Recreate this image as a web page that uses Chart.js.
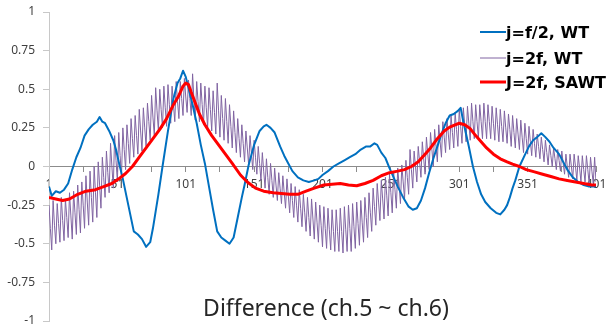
<!DOCTYPE html>
<html>
<head>
<meta charset="utf-8">
<script src="https://cdn.jsdelivr.net/npm/chart.js@4.4.1/dist/chart.umd.min.js"></script>
<style>
  html, body { margin: 0; padding: 0; background: #fff; }
  #chart { display: block; }
</style>
</head>
<body>
<canvas id="chart" width="606" height="328"></canvas>
<script>
// series names (legend order)
const seriesNames = ['j=f/2, WT', 'j=2f, WT', 'J=2f, SAWT'];
const xTickLabels = [1, 51, 101, 151, 201, 251, 301, 351, 401];
const chartTitle = 'Difference (ch.5 ~ ch.6)';

// j=f/2, WT  (sample index -> value)
const blueX = [1, 3, 6, 9, 12, 15, 18, 21, 24, 27, 30, 33, 36, 38, 40, 42, 45, 48, 50, 52, 55, 59, 63, 66, 69, 72, 75, 77, 79, 81, 84, 88, 92, 95, 97, 99, 101, 103, 106, 109, 112, 115, 118, 121, 124, 127, 130, 133, 136, 139, 142, 144, 147, 151, 155, 158, 160, 163, 166, 170, 173, 176, 179, 183, 187, 191, 195, 198, 201, 205, 209, 213, 217, 221, 225, 229, 233, 236, 239, 241, 244, 247, 250, 253, 256, 260, 264, 267, 270, 273, 276, 279, 282, 285, 288, 291, 294, 297, 300, 302, 304, 306, 308, 311, 314, 317, 320, 324, 328, 331, 334, 336, 338, 340, 342, 345, 349, 352, 355, 358, 361, 364, 367, 370, 374, 377, 380, 384, 388, 392, 396, 401];
const blueY = [-0.13, -0.19, -0.16, -0.17, -0.15, -0.11, -0.02, 0.06, 0.12, 0.2, 0.24, 0.27, 0.29, 0.32, 0.29, 0.28, 0.23, 0.17, 0.11, 0.03, -0.08, -0.25, -0.42, -0.44, -0.47, -0.52, -0.49, -0.4, -0.29, -0.18, 0.0, 0.23, 0.44, 0.54, 0.57, 0.62, 0.58, 0.51, 0.4, 0.28, 0.14, 0.02, -0.13, -0.28, -0.42, -0.46, -0.48, -0.5, -0.46, -0.33, -0.2, -0.12, 0.01, 0.14, 0.23, 0.26, 0.27, 0.25, 0.22, 0.13, 0.07, 0.02, -0.03, -0.07, -0.09, -0.1, -0.09, -0.08, -0.055, -0.03, 0.0, 0.02, 0.04, 0.06, 0.08, 0.11, 0.13, 0.13, 0.15, 0.14, 0.09, 0.055, -0.01, -0.07, -0.13, -0.2, -0.26, -0.28, -0.27, -0.22, -0.14, -0.04, 0.05, 0.13, 0.21, 0.28, 0.33, 0.34, 0.36, 0.38, 0.29, 0.21, 0.13, 0.0, -0.1, -0.18, -0.23, -0.27, -0.3, -0.31, -0.28, -0.25, -0.2, -0.14, -0.09, 0.0, 0.075, 0.13, 0.17, 0.19, 0.215, 0.19, 0.16, 0.12, 0.08, 0.03, -0.02, -0.07, -0.1, -0.12, -0.13, -0.13];

// J=2f, SAWT
const redX = [1, 6, 11, 16, 22, 28, 35, 41, 47, 52, 57, 62, 67, 72, 77, 82, 87, 92, 96, 99, 101, 103, 105, 108, 111, 115, 120, 125, 130, 135, 141, 146, 152, 158, 165, 171, 177, 183, 189, 195, 202, 208, 214, 220, 226, 232, 238, 244, 250, 256, 261, 266, 271, 276, 280, 285, 290, 294, 298, 301, 305, 309, 313, 317, 321, 326, 331, 336, 340, 345, 350, 356, 362, 368, 374, 380, 386, 392, 398, 401];
const redY = [-0.2, -0.21, -0.22, -0.21, -0.18, -0.16, -0.15, -0.13, -0.11, -0.08, -0.045, 0.0, 0.06, 0.12, 0.18, 0.24, 0.31, 0.4, 0.46, 0.52, 0.54, 0.53, 0.48, 0.41, 0.34, 0.27, 0.2, 0.14, 0.08, 0.02, -0.055, -0.1, -0.14, -0.16, -0.17, -0.175, -0.18, -0.18, -0.16, -0.14, -0.12, -0.115, -0.11, -0.12, -0.125, -0.11, -0.09, -0.06, -0.04, -0.03, -0.02, 0.0, 0.03, 0.08, 0.12, 0.18, 0.23, 0.255, 0.27, 0.28, 0.27, 0.245, 0.2, 0.16, 0.12, 0.08, 0.05, 0.03, 0.015, 0.0, -0.02, -0.035, -0.05, -0.065, -0.08, -0.09, -0.1, -0.11, -0.12, -0.12];

// j=2f, WT  one value per sample 1..401
const purpleY = [
  -0.25, -0.4, -0.54, -0.22, -0.38, -0.5, -0.24, -0.37, -0.49, -0.2, -0.35, -0.48, -0.21, -0.33, -0.46, -0.17, -0.32, -0.47, -0.16, -0.3, -0.44, -0.12, -0.28, -0.43, -0.1, -0.25, -0.4, -0.06, -0.23, -0.38,
  -0.03, -0.2, -0.36, 0.0, -0.17, -0.33, 0.03, -0.12, -0.27, 0.06, -0.07, -0.2, 0.1, -0.04, -0.17, 0.15, 0.0, -0.14, 0.2, 0.04, -0.1, 0.22, 0.07, -0.07, 0.25, 0.11, -0.02, 0.27, 0.15, 0.02,
  0.31, 0.18, 0.06, 0.33, 0.2, 0.08, 0.37, 0.23, 0.1, 0.38, 0.25, 0.13, 0.41, 0.29, 0.17, 0.46, 0.32, 0.2, 0.51, 0.36, 0.23, 0.5, 0.37, 0.25, 0.52, 0.38, 0.26, 0.53, 0.4, 0.28,
  0.52, 0.4, 0.29, 0.55, 0.42, 0.31, 0.55, 0.44, 0.33, 0.57, 0.45, 0.35, 0.56, 0.44, 0.33, 0.6, 0.43, 0.3, 0.55, 0.42, 0.29, 0.54, 0.4, 0.27, 0.52, 0.38, 0.25, 0.51, 0.37, 0.23,
  0.49, 0.35, 0.21, 0.54, 0.36, 0.19, 0.46, 0.31, 0.17, 0.44, 0.29, 0.15, 0.4, 0.26, 0.12, 0.36, 0.22, 0.09, 0.31, 0.18, 0.06, 0.27, 0.15, 0.03, 0.23, 0.12, 0.01, 0.2, 0.09, -0.02,
  0.17, 0.06, -0.05, 0.13, 0.02, -0.09, 0.09, -0.03, -0.14, 0.05, -0.07, -0.18, 0.02, -0.09, -0.2, -0.01, -0.12, -0.22, -0.04, -0.14, -0.24, -0.06, -0.17, -0.27, -0.08, -0.19, -0.3, -0.11, -0.22, -0.33,
  -0.13, -0.25, -0.36, -0.15, -0.27, -0.39, -0.18, -0.3, -0.42, -0.2, -0.33, -0.45, -0.21, -0.34, -0.47, -0.23, -0.36, -0.49, -0.25, -0.38, -0.52, -0.26, -0.4, -0.53, -0.27, -0.41, -0.54, -0.28, -0.42, -0.55,
  -0.28, -0.42, -0.55, -0.27, -0.42, -0.56, -0.26, -0.41, -0.55, -0.25, -0.4, -0.55, -0.24, -0.39, -0.53, -0.23, -0.37, -0.51, -0.22, -0.36, -0.49, -0.2, -0.33, -0.46, -0.17, -0.3, -0.42, -0.14, -0.26, -0.38,
  -0.11, -0.23, -0.35, -0.09, -0.21, -0.34, -0.07, -0.19, -0.32, -0.05, -0.17, -0.3, -0.03, -0.15, -0.27, -0.01, -0.12, -0.24, 0.01, -0.1, -0.21, 0.04, -0.07, -0.18, 0.11, -0.02, -0.14, 0.1, 0.0, -0.1,
  0.13, 0.03, -0.07, 0.16, 0.05, -0.05, 0.19, 0.08, -0.02, 0.22, 0.11, 0.0, 0.24, 0.13, 0.03, 0.27, 0.16, 0.06, 0.29, 0.19, 0.09, 0.31, 0.21, 0.11, 0.33, 0.22, 0.12, 0.35, 0.24, 0.13,
  0.37, 0.26, 0.15, 0.38, 0.27, 0.16, 0.39, 0.28, 0.17, 0.41, 0.29, 0.18, 0.4, 0.29, 0.18, 0.4, 0.29, 0.18, 0.41, 0.29, 0.18, 0.4, 0.29, 0.18, 0.39, 0.28, 0.17, 0.38, 0.27, 0.16,
  0.37, 0.26, 0.16, 0.36, 0.25, 0.15, 0.34, 0.24, 0.13, 0.33, 0.22, 0.12, 0.31, 0.21, 0.11, 0.3, 0.19, 0.09, 0.28, 0.18, 0.08, 0.26, 0.16, 0.07, 0.24, 0.15, 0.06, 0.21, 0.13, 0.05,
  0.19, 0.11, 0.03, 0.17, 0.09, 0.01, 0.14, 0.07, 0.0, 0.12, 0.05, -0.02, 0.11, 0.04, -0.03, 0.1, 0.02, -0.05, 0.08, 0.0, -0.07, 0.08, 0.0, -0.08, 0.08, 0.0, -0.09, 0.07, -0.01, -0.1,
  0.07, -0.02, -0.1, 0.07, -0.02, -0.11, 0.06, -0.03, -0.11, 0.06, -0.1
];

function toPoints(xs, ys) {
  return ys.map((y, i) => ({ x: xs ? xs[i] : i + 1, y: y }));
}

const legendStyle = [
  { color: '#0070C0', width: 2 },
  { color: '#8064A2', width: 1 },
  { color: '#FF0000', width: 3 }
];

// custom legend + axis title drawn over the plot area
const overlayPlugin = {
  id: 'overlay',
  afterDraw(chart) {
    const ctx = chart.ctx;
    ctx.save();
    ctx.font = 'bold 16px "DejaVu Sans"';
    ctx.fillStyle = '#000';
    ctx.textAlign = 'left';
    ctx.textBaseline = 'alphabetic';
    const rows = [32, 58, 82];
    seriesNames.forEach((name, i) => {
      ctx.strokeStyle = legendStyle[i].color;
      ctx.lineWidth = legendStyle[i].width;
      ctx.beginPath();
      ctx.moveTo(480, rows[i]);
      ctx.lineTo(506, rows[i]);
      ctx.stroke();
      ctx.fillText(name, 506, rows[i] + 6);
    });
    ctx.font = '23px "Noto Sans"';
    ctx.fillStyle = '#262626';
    ctx.textAlign = 'center';
    ctx.fillText(chartTitle, 326, 316);
    ctx.restore();
  }
};

function setupChart() {
  const ctx = document.getElementById('chart').getContext('2d');
  new Chart(ctx, {
    type: 'line',
    data: {
      datasets: [
        {
          label: seriesNames[2],
          data: toPoints(redX, redY),
          borderColor: '#FF0000',
          borderWidth: 3
        },
        {
          label: seriesNames[0],
          data: toPoints(blueX, blueY),
          borderColor: '#0070C0',
          borderWidth: 2
        },
        {
          label: seriesNames[1],
          data: toPoints(null, purpleY),
          borderColor: '#8064A2',
          borderWidth: 1
        }
      ]
    },
    options: {
      responsive: false,
      animation: false,
      devicePixelRatio: 1,
      layout: { padding: { top: 12, right: 10, bottom: 7, left: 0 } },
      elements: {
        point: { radius: 0 },
        line: { tension: 0, fill: false, borderJoinStyle: 'round' }
      },
      scales: {
        x: {
          type: 'linear',
          position: { y: 0 },
          min: 1,
          max: 401,
          afterFit: scale => {
            scale.height = 0;
            scale.paddingLeft = 0;
            scale.paddingRight = 0;
          },
          grid: { drawOnChartArea: false, drawTicks: true, tickLength: 5, color: '#8c8c8c' },
          border: { display: true, color: '#8c8c8c' },
          ticks: {
            stepSize: 25,
            autoSkip: false,
            maxRotation: 0,
            padding: 6,
            color: '#404040',
            font: { family: 'Noto Sans', size: 12 },
            callback: v => xTickLabels.includes(v) ? String(v) : ''
          }
        },
        y: {
          min: -1,
          max: 1,
          afterFit: scale => {
            scale.width = 49;
            scale.paddingTop = 0;
            scale.paddingBottom = 0;
          },
          grid: { drawOnChartArea: false, drawTicks: true, tickLength: 6, color: '#c8c8c8' },
          border: { display: true, color: '#c8c8c8' },
          ticks: {
            stepSize: 0.25,
            padding: 8,
            color: '#404040',
            font: { family: 'Noto Sans', size: 12 },
            callback: v => String(v)
          }
        }
      },
      plugins: {
        legend: { display: false },
        tooltip: { enabled: false }
      }
    },
    plugins: [overlayPlugin]
  });
}

document.addEventListener('DOMContentLoaded', setupChart);
</script>
</body>
</html>
